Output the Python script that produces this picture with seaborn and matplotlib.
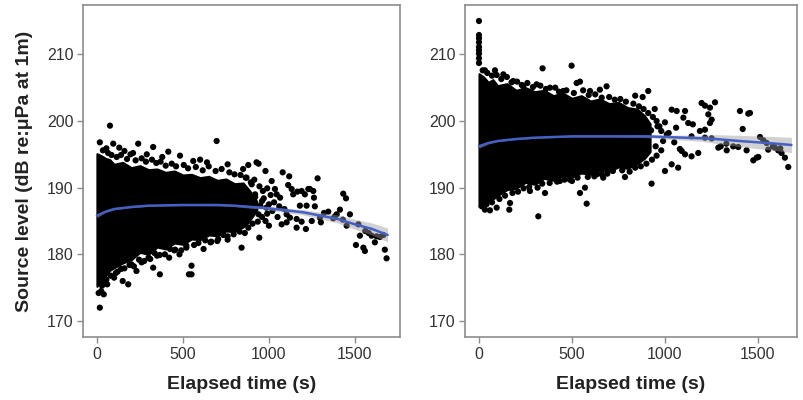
import numpy as np
import pandas as pd
import matplotlib
matplotlib.use("Agg")
import matplotlib.pyplot as plt
import seaborn as sns

# ---------------- Panel A (left) ----------------
# dense core of the point cloud: time (s), upper and lower bound (dB)
a_core_t = [0, 25, 50, 75, 100, 150, 200, 250, 300, 350, 400, 450, 500, 550, 600, 650,
            700, 750, 800, 850, 880, 910, 930]
a_core_hi = [195.1, 194.8, 194.4, 194.2, 193.5, 193.8, 193.0, 193.3, 192.7, 192.8, 192.3,
             192.5, 191.9, 192.0, 191.5, 191.7, 191.1, 191.3, 190.6, 190.7, 189.8, 188.8, 187.9]
a_core_lo = [175.2, 176.0, 176.8, 177.6, 178.0, 178.7, 179.2, 180.3, 180.0, 181.1, 180.8,
             181.7, 181.5, 182.3, 182.2, 182.9, 182.8, 183.5, 183.4, 184.1, 184.8, 185.9, 186.7]

# individual detections outside the dense core
a_pts_t = [17, 76, 95, 55, 130, 160, 240, 210, 327, 290, 415, 483, 380, 560, 696, 640, 600,
           760, 880, 928, 940, 850, 980, 1016, 1080, 1118, 1283, 1432, 1448,
           1035, 1045, 1065, 1112, 1132, 1141, 1165, 1190, 1209, 1229, 1238, 1258, 1262,
           1180, 1219, 1267, 1161, 1190, 1249, 1103, 1122, 1297, 1345, 1374, 1384, 1394,
           1413, 1452, 1471, 1520, 1529, 1506, 1549, 1558, 1597, 1616, 1626, 1645, 1665,
           1674, 1684, 1302, 1215, 1161, 1103, 1074, 944, 841, 1000, 1020, 1060, 1090,
           960, 980, 1000, 1050, 900, 920, 870, 1320, 1430, 1560, 1580,
           17, 10, 25, 40, 60, 100, 150, 182, 230, 327, 366, 535, 550, 550, 420, 480,
           620, 700, 760, 260, 140, 300, 200, 450, 660, 520, 350, 110, 45,
           # upper fringe of the cloud
           35, 65, 85, 115, 140, 175, 195, 225, 260, 285, 320, 345, 370, 400, 435, 460, 505,
           530, 575, 615, 650, 690, 725, 770, 800, 835, 865, 895, 915, 945, 965, 990,
           # lower fringe of the cloud
           30, 55, 80, 120, 160, 190, 215, 245, 275, 310, 335, 365, 395, 425, 455, 490, 520,
           565, 590, 630, 665, 705, 735, 760, 795, 830, 860, 880, 905, 935, 960, 990,
           # thinning tail of the cloud
           900, 920, 950, 970, 985, 940, 1010, 1030]
a_pts_y = [196.8, 199.3, 196.6, 195.9, 196.0, 195.5, 196.6, 195.2, 196.1, 195.0, 195.4, 194.8,
           194.6, 194.0, 197.0, 193.8, 194.2, 193.5, 193.4, 193.8, 193.6, 192.8, 192.5, 191.0,
           192.3, 191.7, 191.4, 189.1, 188.4,
           189.8, 189.0, 188.5, 190.4, 189.8, 189.0, 189.4, 189.5, 189.0, 189.8, 189.8, 189.5,
           188.5, 187.3, 187.3, 187.2, 185.3, 184.9, 185.0, 186.0, 185.5, 185.5, 186.4, 185.4,
           185.7, 186.0, 186.7, 184.3, 186.0, 184.5, 182.8, 181.4, 181.0, 180.5, 182.8, 181.8,
           182.7, 182.6, 182.9, 180.7, 179.4, 184.8, 183.8, 184.0, 184.8, 184.5, 182.5, 181.0,
           187.5, 186.5, 187.2, 186.8, 188.0, 185.0, 184.3, 185.6, 190.5, 189.0, 191.5, 186.2,
           185.2, 183.5, 183.2,
           172.0, 174.2, 174.5, 174.0, 175.5, 176.5, 176.0, 175.5, 177.5, 178.0, 177.0, 177.0,
           177.0, 178.3, 179.5, 180.0, 180.8, 182.0, 182.2, 178.8, 177.8, 179.5, 178.5,
           180.6, 181.8, 181.0, 179.8, 177.2, 175.8,
           195.6, 195.2, 194.9, 194.6, 194.9, 194.3, 195.0, 194.1, 194.4, 193.9, 194.2, 193.7,
           193.9, 193.3, 193.6, 193.2, 193.4, 192.9, 193.1, 192.6, 193.2, 192.5, 192.8, 192.3,
           192.0, 191.9, 191.5, 190.8, 191.2, 190.2, 189.5, 189.9,
           175.3, 176.2, 176.8, 177.4, 177.9, 178.4, 178.2, 179.2, 179.0, 179.3, 180.2, 179.9,
           180.0, 180.8, 180.7, 180.6, 181.3, 181.4, 181.7, 182.1, 181.9, 182.3, 182.9, 182.7,
           183.0, 183.4, 183.2, 184.0, 184.6, 184.9, 185.6, 186.1,
           187.8, 188.6, 187.3, 188.4, 187.0, 186.0, 188.9, 187.8]

# fitted smooth with confidence band (half-width in dB)
a_fit_t = [0, 50, 100, 200, 300, 500, 700, 800, 1000, 1200, 1400, 1500, 1600, 1690]
a_fit_y = [185.8, 186.4, 186.8, 187.1, 187.3, 187.4, 187.4, 187.3, 186.9, 186.3, 185.3, 184.5, 183.8, 182.9]
a_fit_ci = [0.3, 0.15, 0.12, 0.1, 0.1, 0.1, 0.12, 0.15, 0.25, 0.4, 0.6, 0.75, 0.9, 1.05]

# ---------------- Panel B (right) ----------------
b_core_t = [0, 25, 50, 75, 100, 150, 200, 250, 300, 350, 400, 450, 500, 550, 600, 650,
            700, 750, 800, 850, 890, 920]
b_core_hi = [207.1, 206.6, 205.8, 206.2, 205.3, 205.6, 204.6, 205.0, 204.4, 204.6, 203.8,
             204.2, 203.4, 203.8, 203.0, 203.3, 202.6, 202.8, 202.0, 201.8, 200.8, 199.6]
b_core_lo = [187.2, 187.5, 188.1, 188.3, 188.8, 189.7, 189.9, 190.8, 190.5, 191.4, 191.1,
             191.8, 191.6, 192.2, 192.0, 192.6, 192.5, 193.1, 192.9, 193.6, 194.4, 195.4]

b_pts_t = [0, 0, 0, 0, 0, 0, 0, 0, 0,
           342, 498, 32, 86, 131, 184, 238, 310, 382, 453, 525, 543, 597, 650, 686,
           319, 579, 163, 167, 59, 95, 32, 355, 274, 435, 543, 570, 489, 668, 633,
           910, 1403, 1448, 1418, 1197, 1215, 1242, 1269, 1233, 1251, 1242, 1036, 1063,
           1108, 1125, 1099, 1188, 1215, 1287, 1332, 1367, 1394, 1439, 1511, 1529, 1547,
           1555, 1591, 1609, 1627, 1645, 1663, 1475, 1502, 928, 785, 1036, 1071, 1000,
           1143, 1179, 1090, 1108, 1215, 1251, 1143, 1457, 1493,
           960, 980, 1000, 1020, 1060, 1050, 1080, 840, 880, 1150, 1300, 1330, 1580, 1620,
           # upper fringe of the cloud
           20, 45, 70, 95, 120, 150, 175, 205, 230, 260, 290, 330, 360, 410, 430, 470, 510,
           560, 590, 625, 660, 700, 730, 760, 790, 830, 860, 885, 910, 935, 955,
           # lower fringe of the cloud
           15, 40, 70, 110, 140, 180, 210, 240, 270, 315, 340, 380, 420, 460, 500, 530, 585,
           620, 660, 690, 720, 770, 810, 840, 870, 900, 930, 955,
           # thinning tail of the cloud
           900, 925, 950, 970, 990, 1010, 945, 980]
b_pts_y = [215.0, 212.9, 212.4, 211.8, 211.1, 210.6, 210.1, 209.4, 208.7,
           207.9, 208.3, 207.6, 207.6, 207.0, 206.0, 205.2, 205.5, 205.0, 204.5, 205.7, 205.9,
           204.5, 204.7, 205.2,
           185.7, 187.6, 186.7, 187.7, 186.6, 187.0, 186.7, 189.2, 189.5, 191.0, 189.2, 190.0,
           191.2, 191.5, 192.0,
           204.5, 201.5, 201.1, 198.8, 202.7, 202.3, 202.0, 202.8, 201.0, 200.2, 199.7, 201.7,
           201.5, 201.5, 199.7, 200.5, 198.5, 198.7, 196.0, 195.6, 196.2, 196.1, 195.6, 197.6,
           197.1, 196.7, 195.7, 196.0, 195.6, 195.2, 194.5, 193.1, 194.1, 194.6, 190.6, 191.6,
           193.5, 193.0, 192.5, 194.7, 195.2, 195.5, 195.0, 197.5, 197.4, 197.7, 201.2, 194.5,
           199.2, 198.5, 199.8, 198.2, 199.0, 196.8, 195.8, 203.8, 203.6, 199.5, 196.2, 196.6,
           196.2, 195.9,
           207.6, 207.2, 206.8, 206.9, 206.3, 206.6, 205.8, 205.9, 205.4, 205.7, 205.1, 205.3,
           204.8, 205.0, 204.4, 204.6, 204.2, 204.6, 203.9, 204.0, 203.5, 203.6, 203.2, 203.3,
           202.9, 202.6, 202.2, 201.8, 201.2, 200.6, 200.0,
           187.2, 187.5, 187.8, 188.3, 188.8, 189.2, 189.4, 189.9, 190.1, 190.0, 190.6, 190.7,
           190.9, 191.2, 191.0, 191.5, 191.6, 191.7, 192.0, 192.1, 192.5, 192.6, 192.4, 193.0,
           193.2, 193.6, 194.2, 194.8,
           197.5, 198.6, 196.2, 199.2, 197.0, 198.0, 201.8, 195.6]

b_fit_t = [0, 50, 100, 200, 300, 500, 700, 900, 1000, 1200, 1270, 1400, 1500, 1600, 1680]
b_fit_y = [196.2, 196.7, 197.0, 197.3, 197.5, 197.7, 197.7, 197.7, 197.6, 197.4, 197.3, 197.0, 196.8, 196.6, 196.4]
b_fit_ci = [0.3, 0.15, 0.1, 0.1, 0.1, 0.1, 0.1, 0.2, 0.3, 0.45, 0.65, 0.85, 0.95, 1.05, 1.15]

# ---------------- axis settings ----------------
y_ticks = [170, 180, 190, 200, 210]
x_ticks = [0, 500, 1000, 1500]
y_label = "Source level (dB re:μPa at 1m)"
x_label = "Elapsed time (s)"

sns.set_theme(style="white")
plt.rcParams["font.family"] = ["Liberation Sans", "DejaVu Sans"]

fig = plt.figure(figsize=(8.04, 4.0), dpi=100)
ax_a = fig.add_axes([0.1032, 0.1575, 0.3943, 0.83])
ax_b = fig.add_axes([0.5784, 0.1575, 0.4129, 0.83])

line_color = "#4460c4"
band_color = "#999999"
frame_color = "#8c8c8c"


def draw_panel(ax, core_t, core_hi, core_lo, pts_t, pts_y, fit_t, fit_y, fit_ci, xlim):
    ax.fill_between(core_t, core_lo, core_hi, color="black", lw=1.5, edgecolor="black", zorder=2)
    pts = pd.DataFrame({"t": pts_t, "y": pts_y})
    sns.scatterplot(data=pts, x="t", y="y", ax=ax, color="black", s=20,
                    edgecolor="none", linewidth=0, zorder=3)
    fit = pd.DataFrame({"t": fit_t, "y": fit_y})
    lo = np.array(fit_y) - np.array(fit_ci)
    hi = np.array(fit_y) + np.array(fit_ci)
    ax.fill_between(fit_t, lo, hi, color=band_color, alpha=0.45, lw=0, zorder=4)
    sns.lineplot(data=fit, x="t", y="y", ax=ax, color=line_color, lw=1.8, zorder=5)
    ax.set_xlim(*xlim)
    ax.set_ylim(167.6, 217.4)
    ax.set_xticks(x_ticks)
    ax.set_yticks(y_ticks)
    ax.tick_params(axis="both", which="both", direction="out", length=4, width=1,
                   color=frame_color, labelsize=11.5, labelcolor="#333333", pad=3,
                   bottom=True, left=True)
    for sp in ax.spines.values():
        sp.set_color(frame_color)
        sp.set_linewidth(1.2)
    ax.set_xlabel(x_label, fontsize=14, fontweight="bold", color="#222222", labelpad=10)


draw_panel(ax_a, a_core_t, a_core_hi, a_core_lo, a_pts_t, a_pts_y,
           a_fit_t, a_fit_y, a_fit_ci, (-81, 1762))
draw_panel(ax_b, b_core_t, b_core_hi, b_core_lo, b_pts_t, b_pts_y,
           b_fit_t, b_fit_y, b_fit_ci, (-75, 1710))

ax_a.set_ylabel(y_label, fontsize=14, fontweight="bold", color="#222222", labelpad=10)
ax_b.set_ylabel("")

fig.savefig("out.png", dpi=100, facecolor="white")
